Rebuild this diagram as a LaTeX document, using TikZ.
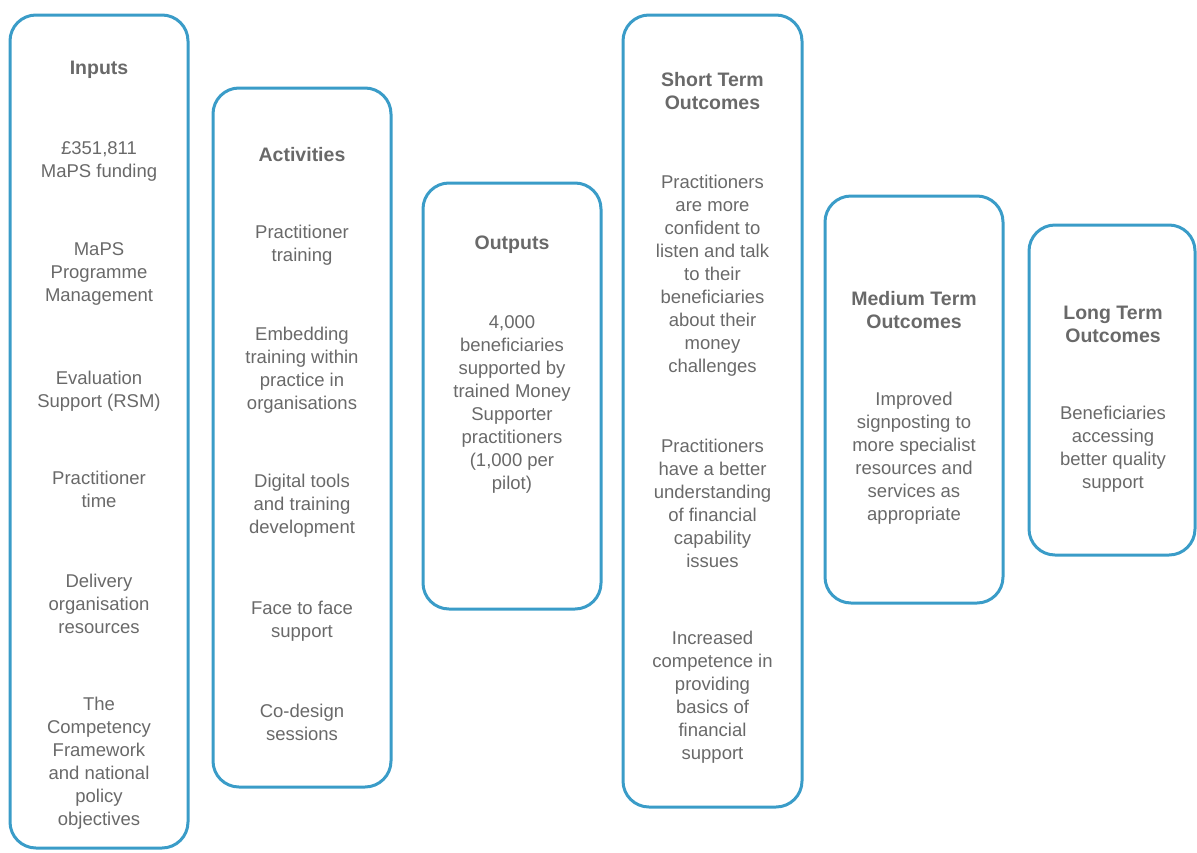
\documentclass[tikz,border=0pt]{standalone}
\usepackage{fontspec}
\setmainfont{Liberation Sans}
\begin{document}
\begin{tikzpicture}[x=1pt,y=-1pt,
  box/.style={draw=boxblue, line width=3pt, rounded corners=26pt, inner sep=0pt},
  txt/.style={text=txtgray, align=center, font=\fontsize{18.5}{23}\selectfont, inner sep=0pt, yshift=-2pt},
  ttl/.style={txt, font=\fontsize{19.5}{23}\selectfont\bfseries}]
\definecolor{boxblue}{RGB}{58,156,200}
\definecolor{txtgray}{RGB}{105,105,105}
\useasboundingbox (0,0) rectangle (1197,852);
% boxes
\node[box, minimum width=178pt, minimum height=833pt] (inputs) at (99,431.5) {};
\node[box, minimum width=178pt, minimum height=699pt] (activities) at (302,437.5) {};
\node[box, minimum width=178pt, minimum height=426pt] (outputs) at (512,396) {};
\node[box, minimum width=179pt, minimum height=792pt] (short) at (712.5,411) {};
\node[box, minimum width=178pt, minimum height=407pt] (medium) at (914,399.5) {};
\node[box, minimum width=166pt, minimum height=330pt] (long) at (1112,390) {};
% Inputs
\node[ttl] (t1) at (99,68) {Inputs};
\node[txt] (i1) at (99,159) {£351,811\\MaPS funding};
\node[txt] (i2) at (99,272) {MaPS\\Programme\\Management};
\node[txt] (i3) at (99,389.5) {Evaluation\\Support (RSM)};
\node[txt] (i4) at (99,487.5) {Practitioner\\time};
\node[txt] (i5) at (99,601.5) {Delivery\\organisation\\resources};
\node[txt] (i6) at (99,761.5) {The\\Competency\\Framework\\and national\\policy\\objectives};
% Activities
\node[ttl] (t2) at (302,153) {Activities};
\node[txt] (a1) at (302,243) {Practitioner\\training};
\node[txt] (a2) at (302,368) {Embedding\\training within\\practice in\\organisations};
\node[txt] (a3) at (302,504) {Digital tools\\and training\\development};
\node[txt] (a4) at (302,619) {Face to face\\support};
\node[txt] (a5) at (302,720.5) {Co-design\\sessions};
% Outputs
\node[ttl] (t3) at (512,243) {Outputs};
\node[txt] (o1) at (512,402.5) {4,000\\beneficiaries\\supported by\\trained Money\\Supporter\\practitioners\\(1,000 per\\pilot)};
% Short term
\node[ttl] (t4) at (712.5,89.5) {Short Term\\Outcomes};
\node[txt] (s1) at (712.5,273.5) {Practitioners\\are more\\confident to\\listen and talk\\to their\\beneficiaries\\about their\\money\\challenges};
\node[txt] (s2) at (712.5,501) {Practitioners\\have a better\\understanding\\of financial\\capability\\issues};
\node[txt] (s3) at (712.5,695) {Increased\\competence in\\providing\\basics of\\financial\\support};
% Medium term
\node[ttl] (t5) at (914,308.5) {Medium Term\\Outcomes};
\node[txt] (m1) at (914,456.5) {Improved\\signposting to\\more specialist\\resources and\\services as\\appropriate};
% Long term
\node[ttl] (t6) at (1113,322.5) {Long Term\\Outcomes};
\node[txt] (l1) at (1113,447.5) {Beneficiaries\\accessing\\better quality\\support};
\end{tikzpicture}
\end{document}
